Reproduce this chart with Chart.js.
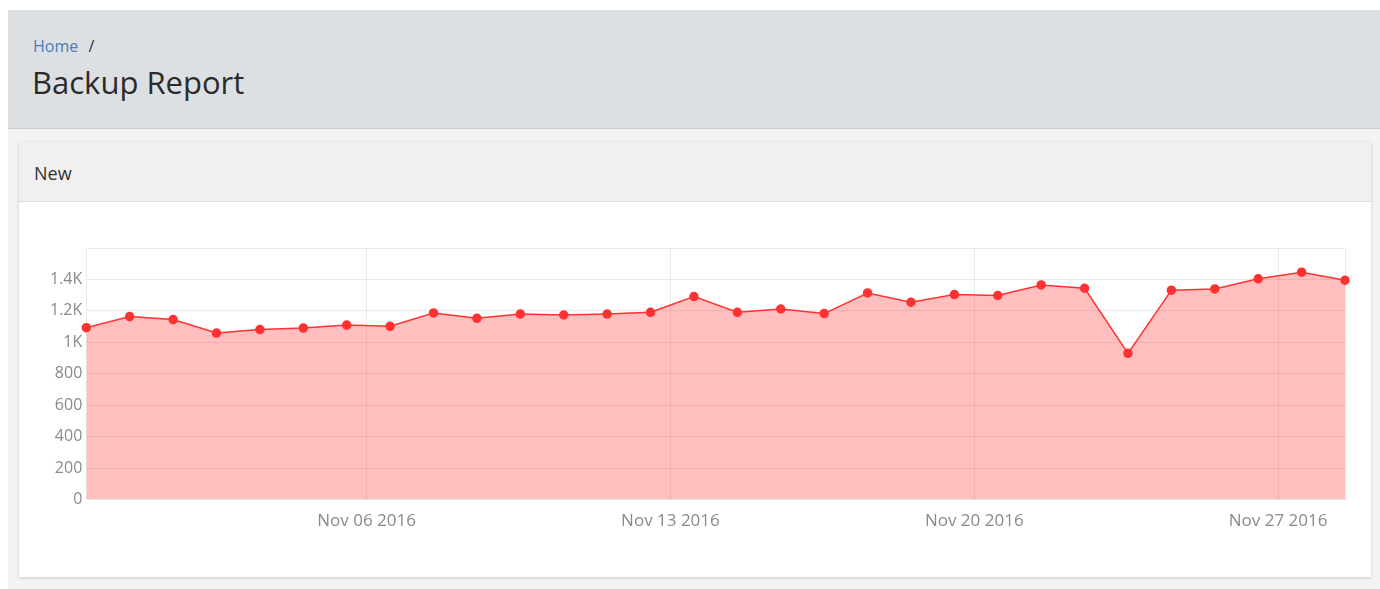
<!DOCTYPE html>
<html>
<head>
<meta charset="utf-8">
<title>Backup Report</title>
<script src="https://cdn.jsdelivr.net/npm/chart.js@4/dist/chart.umd.min.js"></script>
<style>
  html, body { margin: 0; padding: 0; }
  body {
    width: 1380px; height: 589px; overflow: hidden;
    background: #fff;
    font-family: "Open Sans", Lato, sans-serif;
  }
  .page {
    position: absolute; left: 8px; top: 10px; right: 0; bottom: 0;
    background: #f3f3f3;
  }
  .header {
    height: 119px;
    background: #dde0e3;
    border-bottom: 1px solid #c9ccd0;
    padding-left: 25px;
    box-sizing: border-box;
  }
  .crumb { padding-top: 25px; font-size: 16px; color: #333; }
  .crumb a { color: #4a7cb8; text-decoration: none; margin-right: 6px; }
  h1 { margin: 4px 0 0 -1px; font-weight: 400; font-size: 31px; color: #2b2b2b; }
  .card {
    position: absolute; left: 11px; top: 132px; width: 1352px; height: 435px;
    background: #fff;
    box-shadow: 0 1px 3px rgba(0,0,0,0.18);
  }
  .card-head {
    height: 60px; background: #f0f0f0; border-bottom: 1px solid #dcdcdc;
    box-sizing: border-box; padding: 19px 0 0 15px;
    font-size: 18px; color: #333;
  }
  .card-body { position: relative; width: 1352px; height: 375px; }
</style>
</head>
<body>
<div class="page">
  <div class="header">
    <div class="crumb"><a href="#">Home</a> /</div>
    <h1>Backup Report</h1>
  </div>
  <div class="card">
    <div class="card-head">New</div>
    <div class="card-body"><canvas id="chart"></canvas></div>
  </div>
</div>
<script>
const dates = [
  '2016-10-30', '2016-10-31', '2016-11-01', '2016-11-02', '2016-11-03',
  '2016-11-04', '2016-11-05', '2016-11-06', '2016-11-07', '2016-11-08',
  '2016-11-09', '2016-11-10', '2016-11-11', '2016-11-12', '2016-11-13',
  '2016-11-14', '2016-11-15', '2016-11-16', '2016-11-17', '2016-11-18',
  '2016-11-19', '2016-11-20', '2016-11-21', '2016-11-22', '2016-11-23',
  '2016-11-24', '2016-11-25', '2016-11-26', '2016-11-27', '2016-11-28',
];
const backupTime = 'T13:00:00Z';
const backups = [
  1093, 1164, 1145, 1059, 1081, 1091, 1110, 1102, 1187, 1153,
  1180, 1174, 1180, 1191, 1291, 1191, 1212, 1183, 1314, 1255,
  1304, 1298, 1365, 1344, 930, 1332, 1340, 1404, 1446, 1395,
];
const tickDates = ['2016-11-06', '2016-11-13', '2016-11-20', '2016-11-27'];
const tickLabels = ['Nov 06 2016', 'Nov 13 2016', 'Nov 20 2016', 'Nov 27 2016'];
const yTicks = [0, 200, 400, 600, 800, 1000, 1200, 1400];

const colors = {
  line: '#ff3131',
  fill: 'rgba(255, 0, 0, 0.25)',
  grid: 'rgba(0, 0, 0, 0.08)',
  text: '#8a8a8a',
};

function formatK(v) {
  if (v >= 1000) return (v / 1000) + 'K';
  return String(v);
}

const points = dates.map((d, i) => ({ x: Date.parse(d + backupTime), y: backups[i] }));
const tickTimes = tickDates.map((d) => Date.parse(d + 'T00:00:00Z'));

new Chart(document.getElementById('chart'), {
  type: 'line',
  data: {
    datasets: [{
      label: 'New',
      data: points,
      borderColor: colors.line,
      backgroundColor: colors.fill,
      pointBackgroundColor: colors.line,
      pointBorderColor: colors.line,
      pointRadius: 4,
      borderWidth: 1.5,
      fill: 'origin',
      tension: 0,
      clip: false,
    }],
  },
  options: {
    responsive: true,
    maintainAspectRatio: false,
    animation: false,
    layout: { padding: { top: 46, left: 27, right: 26, bottom: 35 } },
    plugins: {
      legend: { display: false },
      tooltip: { enabled: false },
    },
    scales: {
      x: {
        type: 'linear',
        min: points[0].x,
        max: points[points.length - 1].x,
        afterBuildTicks: (axis) => {
          axis.ticks = tickTimes.map((v) => ({ value: v }));
        },
        ticks: {
          color: colors.text,
          font: { family: 'Open Sans', size: 17 },
          maxRotation: 0,
          padding: 11,
          callback: (v) => tickLabels[tickTimes.indexOf(v)],
        },
        grid: { color: colors.grid, drawTicks: false },
        border: { display: false },
      },
      y: {
        min: 0,
        max: 1600,
        afterBuildTicks: (axis) => {
          axis.ticks = yTicks.concat([1600]).map((v) => ({ value: v }));
        },
        ticks: {
          color: colors.text,
          font: { family: 'Open Sans', size: 16 },
          padding: 4,
          callback: (v) => (yTicks.includes(v) ? formatK(v) : ''),
        },
        grid: { color: colors.grid, drawTicks: false },
        border: { display: true, color: colors.grid },
      },
      y2: {
        position: 'right',
        min: 0,
        max: 1600,
        ticks: { display: false },
        grid: { display: false, drawTicks: false },
        border: { display: true, color: colors.grid },
      },
    },
  },
});
</script>
</body>
</html>
